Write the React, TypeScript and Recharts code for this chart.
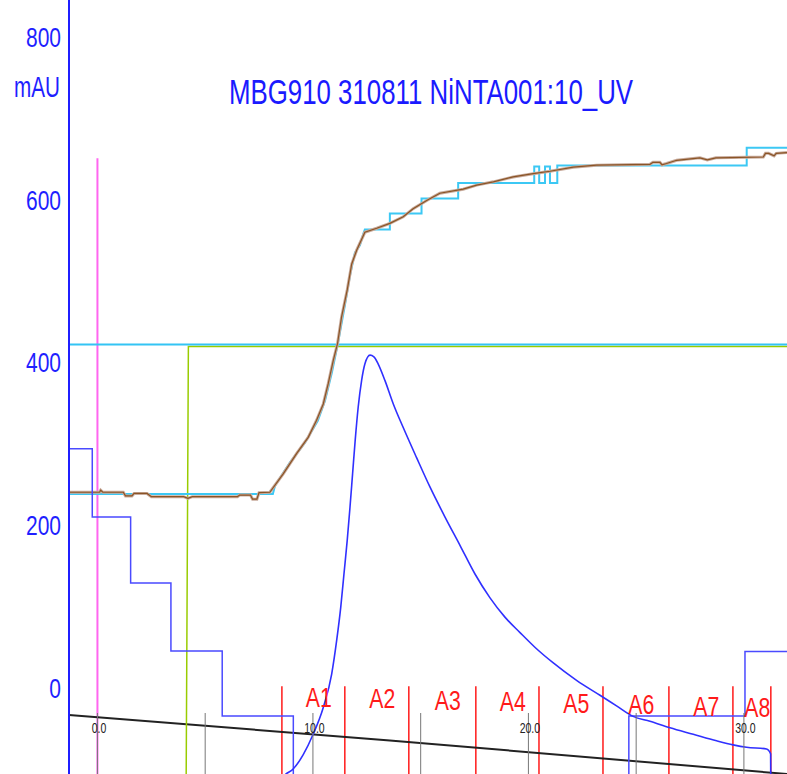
import React from 'react'
import { ComposedChart, Line, XAxis, YAxis, ReferenceLine, Scatter } from 'recharts'

const W = 787
const H = 774
const FONT = '"Liberation Sans", Arial, sans-serif'
const BLUE = '#1f1fff'
const RED = '#ff1a1a'

const X_DOMAIN = [-1.32, 32.0]
const Y_DOMAIN = [-105.8, 845.5]
const Y_TICKS = [0, 200, 400, 600, 800]
const X_TICKS = [0, 5, 10, 15, 20, 25, 30]

// UV trace (mL, mAU)
const UV_ML = [8.55, 8.7, 9.07, 9.55, 10.01, 10.48, 10.87, 11.1, 11.29, 11.44, 11.59, 11.72, 11.84, 11.96, 12.1, 12.26, 12.41, 12.65, 12.83, 13.03, 13.34, 13.73, 14.19, 14.81, 15.43, 16.13, 16.83, 17.52, 18.21, 18.91, 19.61, 20.3, 21.14, 22.25, 23.32, 24.09, 24.86, 25.64, 26.57, 27.65, 28.73, 29.5, 30.12, 31.05, 31.24, 31.25]
const UV_MAU = [-112, -107, -100, -82, -57, -24, 17, 58, 99, 140, 181, 222, 263, 304, 345, 378, 398, 409, 407, 398, 378, 349, 320, 283, 247, 210, 175, 140, 111, 87, 68, 50, 31, 9, -9, -22, -35, -41, -49, -57, -65, -70, -73, -75, -81, -130]

// blue step trace
const STEP_ML = [-1.32, -0.24, 1.54, 3.41, 5.79, 9.09, 24.66, 30.05, 32.0]
const STEP_MAU = [294, 210, 129, 45.5, -34.5, -200, -34.5, 44.7, 44.7]

// conductivity (brown)
const COND_ML = [-1.32, 0.1, 0.15, 0.25, 1.2, 1.3, 1.6, 1.7, 2.3, 2.5, 4.0, 4.2, 4.4, 6.5, 6.6, 7.1, 7.2, 7.4, 7.5, 8.0, 8.62, 9.24, 9.78, 10.17, 10.48, 10.71, 10.94, 11.14, 11.33, 11.59, 11.8, 12.03, 12.41, 12.96, 13.57, 14.19, 14.65, 15.28, 15.89, 16.97, 17.6, 18.37, 19.29, 20.22, 21.0, 22.08, 23.16, 25.64, 25.78, 26.1, 26.2, 26.41, 26.88, 27.96, 28.3, 28.7, 30.9, 31.0, 31.15, 31.4, 31.5, 32.0]
const COND_MAU = [240.5, 240.5, 243, 240.5, 240.5, 236, 236, 239, 239, 235, 235, 233, 235, 235, 237, 237, 232, 232, 240, 240.5, 263, 288, 308, 329, 349, 374, 402, 423, 456, 489, 521, 538, 560, 565, 571, 579, 589, 599, 608, 613, 618, 622, 628, 632, 635, 640, 642.5, 643.5, 646, 646, 643, 644.5, 648.5, 651.5, 649, 651.5, 652.5, 657, 657, 654, 657, 658]

// second conductivity trace (cyan, stepped)
const COND2_ML = [-1.32, 8.14, 8.24, 8.93, 9.63, 10.23, 10.56, 10.88, 11.16, 11.48, 11.72, 11.95, 12.18, 12.36, 12.41, 13.57, 13.57, 15.04, 15.04, 16.74, 16.74, 20.27, 20.27, 20.5, 20.5, 20.77, 20.77, 21.0, 21.0, 21.34, 21.34, 30.13, 30.13, 32.0]
const COND2_MAU = [238.4, 238.4, 248.6, 277, 301.5, 328.6, 353, 387.7, 423.4, 470, 507, 535, 544, 560, 563.3, 563.3, 583, 583, 601.5, 601.5, 620.7, 620.7, 641, 641, 620.7, 620.7, 641, 641, 620.7, 620.7, 642, 642, 663.8, 663.8]

// concentration (green) and flat cyan trace
const CONC_ML = [-1.32, 4.1, 4.22, 32.0]
const CONC_MAU = [-200, -200, 419.7, 419.7]
const FLAT_ML = [-1.32, 32.0]
const FLAT_MAU = [422, 422]

// baseline (black)
const BASE_ML = [-1.32, 13.57, 32.0]
const BASE_MAU = [-33.2, -64.6, -105.8]

// fractions
const FRACTION_EDGES = [8.56, 11.48, 14.45, 17.56, 20.49, 23.46, 26.52, 29.49, 31.25]
const FRACTION_NAMES = ['A1', 'A2', 'A3', 'A4', 'A5', 'A6', 'A7', 'A8']
const INJECT_ML = 0

const zip = (xs: number[], ys: number[]) => xs.map((ml, i) => ({ ml, v: ys[i] }))

const uvData = zip(UV_ML, UV_MAU)
const stepData = zip(STEP_ML, STEP_MAU)
const condData = zip(COND_ML, COND_MAU)
const cond2Data = zip(COND2_ML, COND2_MAU)
const concData = zip(CONC_ML, CONC_MAU)
const flatData = zip(FLAT_ML, FLAT_MAU)
const baseData = zip(BASE_ML, BASE_MAU)

const fractionLabels = FRACTION_NAMES.map((name, i) => {
  const ml = (FRACTION_EDGES[i] + FRACTION_EDGES[i + 1]) / 2 + 0.25
  return { ml, v: -11 - 0.6 * (ml - 10.2), name }
})

// narrow text: the original uses a condensed face
const NarrowText = ({ x, y, sx, size, fill, anchor, children }: any) => (
  <text
    transform={`translate(${x},${y}) scale(${sx},1)`}
    textAnchor={anchor}
    fontSize={size}
    fill={fill}
    fontFamily={FONT}
  >
    {children}
  </text>
)

const YTick = (props: any) => {
  const { y, payload } = props
  return (
    <NarrowText x={61} y={y + 10} sx={0.75} size={28} fill={BLUE} anchor="end">
      {String(payload.value)}
    </NarrowText>
  )
}

const XTick = (props: any) => {
  const { x, payload } = props
  if (payload.value % 10 !== 0) return <g />
  return (
    <NarrowText x={x + 1.5} y={733} sx={0.7} size={15} fill="#222" anchor="middle">
      {Number(payload.value).toFixed(1)}
    </NarrowText>
  )
}

const FractionLabel = (props: any) => {
  const { cx, cy, payload } = props
  return (
    <NarrowText x={cx} y={cy + 10} sx={0.76} size={28} fill={RED} anchor="middle">
      {payload.name}
    </NarrowText>
  )
}

export default function App() {
  return (
    <div style={{ position: 'absolute', left: 0, top: 0, width: W, height: H, background: '#fff' }}>
      <ComposedChart width={W} height={H} margin={{ top: 0, right: 0, bottom: 0, left: 0 }}>
        <XAxis
          dataKey="ml"
          type="number"
          domain={X_DOMAIN}
          allowDataOverflow
          ticks={X_TICKS}
          interval={0}
          height={1}
          mirror
          tickSize={61}
          tickMargin={0}
          axisLine={false}
          tickLine={{ stroke: '#777', strokeWidth: 1 }}
          tick={<XTick />}
        />
        <YAxis
          type="number"
          domain={Y_DOMAIN}
          allowDataOverflow
          ticks={Y_TICKS}
          interval={0}
          width={69}
          tickLine={false}
          axisLine={{ stroke: BLUE, strokeWidth: 2 }}
          tick={<YTick />}
        />
        <ReferenceLine
          segment={[{ x: INJECT_ML, y: 651 }, { x: INJECT_ML, y: -105.8 }]}
          stroke="#ff66f0"
          strokeWidth={2}
        />
        {FRACTION_EDGES.map((e) => (
          <ReferenceLine key={e} segment={[{ x: e, y: 2 }, { x: e, y: -105.8 }]} stroke={RED} strokeWidth={1.5} />
        ))}
        <Line data={baseData} dataKey="v" type="linear" stroke="#222" strokeWidth={2} dot={false} activeDot={false} isAnimationActive={false} />
        <Line data={concData} dataKey="v" type="linear" stroke="#99cc00" strokeWidth={1.5} dot={false} activeDot={false} isAnimationActive={false} />
        <Line data={flatData} dataKey="v" type="linear" stroke="#33c4f4" strokeWidth={2} dot={false} activeDot={false} isAnimationActive={false} />
        <Line data={cond2Data} dataKey="v" type="linear" stroke="#3cc8f4" strokeWidth={2} dot={false} activeDot={false} isAnimationActive={false} />
        <Line data={condData} dataKey="v" type="linear" stroke="#c8ab9c" strokeWidth={3} dot={false} activeDot={false} isAnimationActive={false} />
        <Line data={condData} dataKey="v" type="linear" stroke="#8a5426" strokeWidth={1.2} dot={false} activeDot={false} isAnimationActive={false} />
        <Line data={stepData} dataKey="v" type="stepAfter" stroke="#4a4aff" strokeWidth={1.5} dot={false} activeDot={false} isAnimationActive={false} />
        <Line data={uvData} dataKey="v" type="monotone" stroke="#3030ff" strokeWidth={1.6} dot={false} activeDot={false} isAnimationActive={false} />
        <Scatter data={fractionLabels} dataKey="v" shape={<FractionLabel />} isAnimationActive={false} />
      </ComposedChart>
      <svg width={W} height={H} style={{ position: 'absolute', left: 0, top: 0, pointerEvents: 'none' }}>
        <NarrowText x={431} y={104} sx={0.718} size={36} fill="#1a1aff" anchor="middle">
          MBG910 310811 NiNTA001:10_UV
        </NarrowText>
        <NarrowText x={60} y={97} sx={0.714} size={29} fill={BLUE} anchor="end">
          mAU
        </NarrowText>
      </svg>
    </div>
  )
}
